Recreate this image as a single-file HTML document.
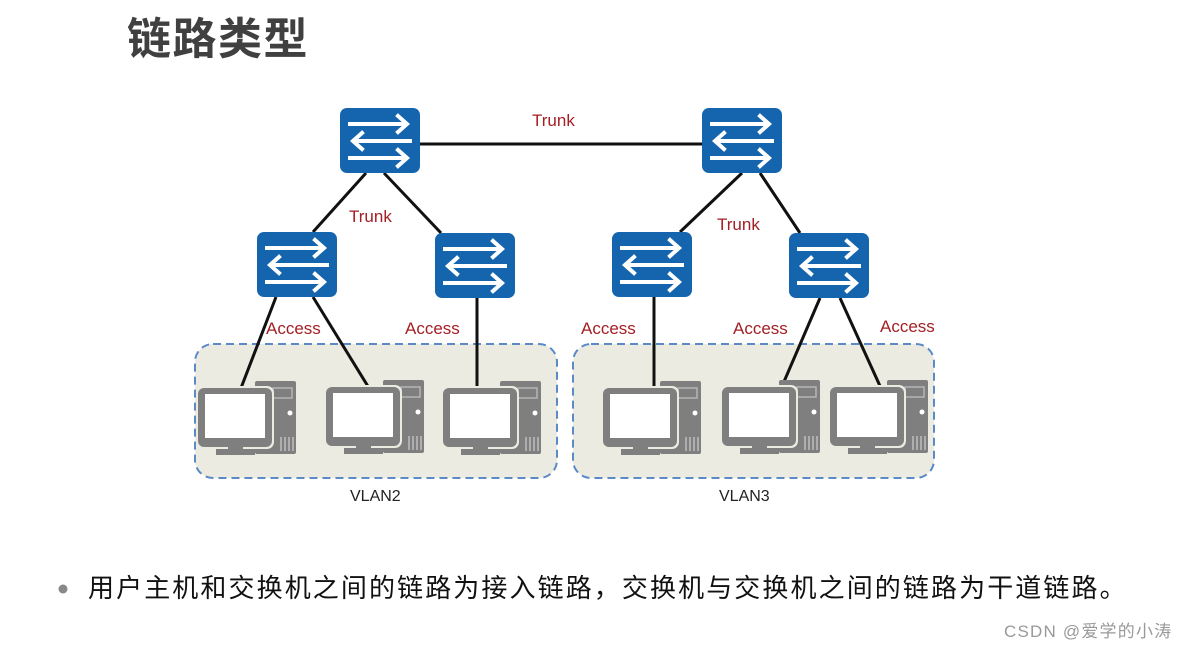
<!DOCTYPE html>
<html><head><meta charset="utf-8"><style>
body{margin:0;background:#fff;width:1191px;height:651px;overflow:hidden;position:relative;font-family:"Liberation Sans","Noto Sans CJK SC",sans-serif}
.t{position:absolute;white-space:nowrap}
</style></head><body>
<div class="t" style="left:127px;top:8px;font-size:44px;font-weight:bold;color:#404040;font-family:'Noto Sans CJK SC',sans-serif;line-height:54px;letter-spacing:1.5px">链路类型</div>
<svg width="1191" height="651" style="position:absolute;left:0;top:0">
<defs>
<g id="sw">
<rect x="0" y="0" width="80" height="65" rx="7" fill="#1565ae"/>
<g stroke="#fff" stroke-width="4" fill="none" stroke-linecap="square">
<line x1="10" y1="16" x2="66" y2="16"/><polyline points="58,8 67,16 58,24"/>
<line x1="14" y1="33" x2="70" y2="33"/><polyline points="22,25 13,33 22,41"/>
<line x1="10" y1="50" x2="66" y2="50"/><polyline points="58,42 67,50 58,58"/>
</g></g>
<g id="pc">
<rect x="57" y="0" width="41" height="73" rx="2" fill="#7f7f7f"/>
<rect x="75" y="7" width="19" height="10" fill="none" stroke="#b5b5b5" stroke-width="1.5"/>
<circle cx="92" cy="32" r="2.5" fill="#fff"/>
<g stroke="#bfbfbf" stroke-width="1.5"><line x1="83" y1="56" x2="83" y2="70"/><line x1="87" y1="56" x2="87" y2="70"/><line x1="91" y1="56" x2="91" y2="70"/><line x1="95" y1="56" x2="95" y2="70"/></g>
<rect x="-2" y="5" width="78" height="63" rx="7" fill="#ecebe1"/>
<rect x="0" y="7" width="74" height="59" rx="6" fill="#7f7f7f"/>
<rect x="7" y="13" width="60" height="44" fill="#fff"/>
<rect x="30" y="64" width="15" height="6" fill="#7f7f7f"/>
<rect x="18" y="68" width="39" height="6" fill="#7f7f7f"/>
</g>
</defs>
<rect x="195" y="344" width="362" height="134" rx="18" fill="#ecebe1" stroke="#5b8ac6" stroke-width="2" stroke-dasharray="8,5"/>
<rect x="573" y="344" width="361" height="134" rx="18" fill="#ecebe1" stroke="#5b8ac6" stroke-width="2" stroke-dasharray="8,5"/>
<g stroke="#111" stroke-width="3">
<line x1="420" y1="144" x2="702" y2="144"/>
<line x1="366" y1="173" x2="313" y2="232"/><line x1="384" y1="173" x2="441" y2="233"/>
<line x1="742" y1="173" x2="680" y2="232"/><line x1="760" y1="173" x2="800" y2="233"/>
<line x1="276" y1="297" x2="241" y2="388"/><line x1="313" y1="297" x2="369" y2="388"/>
<line x1="477" y1="298" x2="477" y2="388"/>
<line x1="654" y1="297" x2="654" y2="388"/>
<line x1="820" y1="298" x2="783" y2="384"/><line x1="840" y1="298" x2="880" y2="386"/>
</g>
<use href="#sw" x="340" y="108"/><use href="#sw" x="702" y="108"/>
<use href="#sw" x="257" y="232"/><use href="#sw" x="435" y="233"/>
<use href="#sw" x="612" y="232"/><use href="#sw" x="789" y="233"/>
<use href="#pc" x="198" y="381"/><use href="#pc" x="326" y="380"/><use href="#pc" x="443" y="381"/>
<use href="#pc" x="603" y="381"/><use href="#pc" x="722" y="380"/><use href="#pc" x="830" y="380"/>
<g font-family="Liberation Sans,sans-serif" font-size="17" fill="#a31f24">
<text x="532" y="126">Trunk</text><text x="349" y="222">Trunk</text><text x="717" y="230">Trunk</text>
<text x="266" y="334">Access</text><text x="405" y="334">Access</text><text x="581" y="334">Access</text>
<text x="733" y="334">Access</text><text x="880" y="332">Access</text>
</g>
<g font-family="Liberation Sans,sans-serif" font-size="16" fill="#222">
<text x="350" y="501">VLAN2</text><text x="719" y="501">VLAN3</text>
</g>
<circle cx="63" cy="589" r="4.5" fill="#888"/>
</svg>
<div class="t" style="left:88px;top:570px;font-size:26px;color:#111;font-family:'Noto Sans CJK SC',sans-serif;line-height:34px;letter-spacing:2.1px">用户主机和交换机之间的链路为接入链路，交换机与交换机之间的链路为干道链路。</div>
<div class="t" style="left:1004px;top:621px;font-size:17px;color:#999;line-height:22px;letter-spacing:1.2px">CSDN @爱学的小涛</div>
</body></html>
